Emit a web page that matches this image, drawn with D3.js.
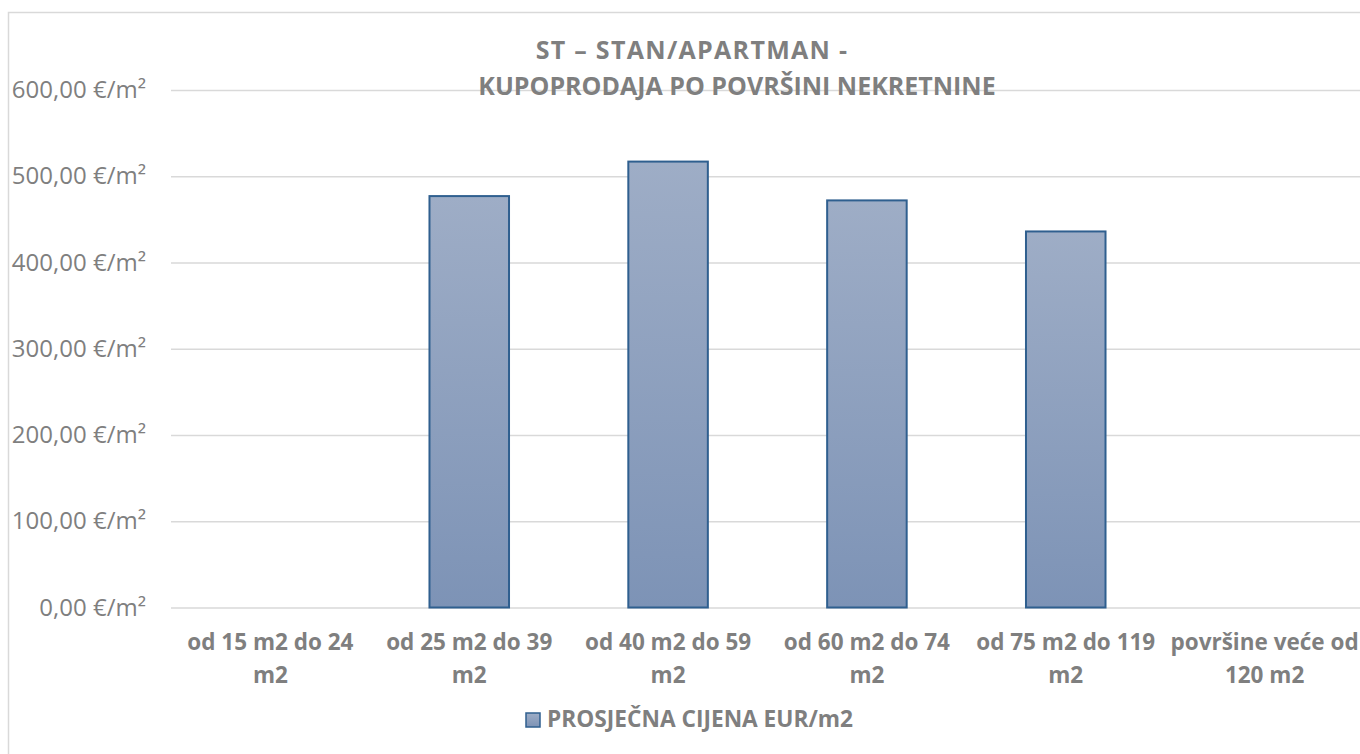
<!DOCTYPE html>
<html>
<head>
<meta charset="utf-8">
<script src="https://cdn.jsdelivr.net/npm/d3@7"></script>
<style>
  html, body { margin: 0; padding: 0; background: #fff; }
  svg { display: block; font-family: "Open Sans", Lato, sans-serif; }
</style>
</head>
<body>
<div id="chart"></div>
<script>
// podaci
var categories = ["od 15 m2 do 24 m2", "od 25 m2 do 39 m2", "od 40 m2 do 59 m2",
                  "od 60 m2 do 74 m2", "od 75 m2 do 119 m2", "površine veće od 120 m2"];
var prices = [null, 477, 517, 472, 436, null];
var yTicks = [0, 100, 200, 300, 400, 500, 600];
var titleLines = ["ST – STAN/APARTMAN -", "KUPOPRODAJA PO POVRŠINI NEKRETNINE"];
var seriesName = "PROSJEČNA CIJENA EUR/m2";

var W = 1360, H = 754;
var margin = {top: 90, right: -4, bottom: 146.5, left: 171};
var width = W - margin.left - margin.right,
    height = H - margin.top - margin.bottom;

var svg = d3.select("#chart").append("svg")
    .attr("width", W).attr("height", H);

// okvir grafikona
svg.append("rect")
    .attr("x", 8.5).attr("y", 12.5)
    .attr("width", 1400).attr("height", 800)
    .attr("fill", "none").attr("stroke", "#d9d9d9").attr("stroke-width", 1.5);

var defs = svg.append("defs");
var grad = defs.append("linearGradient")
    .attr("id", "barGrad").attr("x1", 0).attr("y1", 0).attr("x2", 0).attr("y2", 1);
grad.append("stop").attr("offset", "0%").attr("stop-color", "#9eadc6");
grad.append("stop").attr("offset", "100%").attr("stop-color", "#7d93b6");

var g = svg.append("g")
    .attr("transform", "translate(" + margin.left + "," + margin.top + ")");

var x = d3.scaleBand()
    .domain(categories)
    .range([0, width])
    .paddingInner(0.6)
    .paddingOuter(0.3);

var y = d3.scaleLinear()
    .domain([0, 600])
    .range([height, 0]);

var locale = d3.formatLocale({decimal: ",", thousands: ".", grouping: [3], currency: ["", "€"]});
var fmt = locale.format(",.2f");

// mreža i oznake osi Y
var yAxis = d3.axisLeft(y)
    .tickValues(yTicks)
    .tickSize(-width)
    .tickPadding(25)
    .tickFormat(function(d) { return fmt(d) + " €/m²"; });

var ya = g.append("g").call(yAxis);
ya.select(".domain").remove();
ya.selectAll(".tick line").attr("stroke", "#d9d9d9").attr("stroke-width", 1.5);
ya.selectAll(".tick text")
    .attr("fill", "#7f7f7f")
    .attr("font-size", "24px")
    .attr("font-family", "'Open Sans', sans-serif");

// stupci
g.selectAll("rect.bar")
    .data(categories.map(function(c, i) { return {cat: c, v: prices[i]}; })
        .filter(function(d) { return d.v != null; }))
    .enter().append("rect")
    .attr("class", "bar")
    .attr("x", function(d) { return x(d.cat); })
    .attr("y", function(d) { return y(d.v); })
    .attr("width", x.bandwidth())
    .attr("height", function(d) { return y(0) - y(d.v); })
    .attr("fill", "url(#barGrad)")
    .attr("stroke", "#2f5f8f")
    .attr("stroke-width", 2);

// oznake kategorija
var xa = g.append("g").attr("transform", "translate(0," + height + ")");
categories.forEach(function(c) {
    var t = xa.append("text")
        .attr("text-anchor", "middle")
        .attr("fill", "#7f7f7f")
        .attr("font-size", "22.5px")
        .attr("font-weight", "bold");
    var words = c.split(" "), lines = [], line = [];
    var probe = t.append("tspan");
    words.forEach(function(w) {
        line.push(w);
        probe.text(line.join(" "));
        if (probe.node().getComputedTextLength() > x.step() - 6 && line.length > 1) {
            line.pop();
            lines.push(line.join(" "));
            line = [w];
        }
    });
    lines.push(line.join(" "));
    probe.remove();
    lines.forEach(function(l, i) {
        t.append("tspan")
            .attr("x", x(c) + x.bandwidth() / 2)
            .attr("y", 42 + i * 33)
            .text(l);
    });
});

// naslov
svg.append("text")
    .attr("x", 692).attr("y", 59)
    .attr("text-anchor", "middle")
    .attr("letter-spacing", "1.3px")
    .attr("fill", "#7f7f7f").attr("font-size", "25px").attr("font-weight", "bold")
    .text(titleLines[0]);
svg.append("text")
    .attr("x", 737).attr("y", 95)
    .attr("text-anchor", "middle")
    .attr("fill", "#7f7f7f").attr("font-size", "25px").attr("font-weight", "bold")
    .text(titleLines[1]);

// legenda
var lg = svg.append("g").attr("transform", "translate(526,713)");
lg.append("rect")
    .attr("width", 14).attr("height", 14)
    .attr("fill", "url(#barGrad)").attr("stroke", "#2f5f8f").attr("stroke-width", 1.5);
lg.append("text")
    .attr("x", 21).attr("y", 14)
    .attr("fill", "#7f7f7f").attr("font-size", "22.7px").attr("font-weight", "bold")
    .text(seriesName);
</script>
</body>
</html>
